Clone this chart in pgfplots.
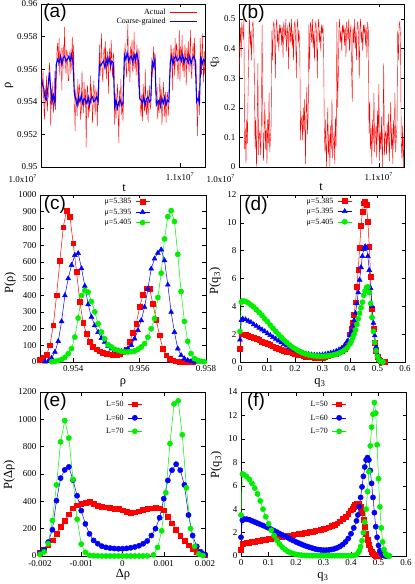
\documentclass[border=0pt]{standalone}
\usepackage{fontspec}
\setmainfont{Liberation Serif}
\newfontfamily\panelfont{Liberation Sans}
\usepackage{pgfplots}
\pgfplotsset{compat=1.18}

\definecolor{cR}{RGB}{255,0,0}
\definecolor{cB}{RGB}{0,0,255}
\definecolor{cG}{RGB}{0,238,0}

\newcommand\lab{\fontsize{12.5}{14}\selectfont}
\newcommand\plab{\panelfont\fontsize{19}{20}\selectfont}

\pgfplotsset{
  panel/.style={
    scale only axis, anchor=south west,
    tick align=inside, major tick length=3.5pt,
    tick style={black, line width=0.4pt},
    axis line style={line width=0.5pt},
    tick label style={font=\fontsize{9}{10}\selectfont},
    /pgf/number format/assume math mode=true,
    /pgf/number format/fixed,
    /pgf/number format/precision=3,
    /pgf/number format/1000 sep={},
    scaled ticks=false,
  },
  tseries/.style={
    xmin=0, xmax=1.18,
    xtick={1}, xticklabels={1.1x10\textsuperscript{7}},
    extra x ticks={0}, extra x tick labels={1.0x10\textsuperscript{7}},
    xticklabel style={yshift=-2pt},
    extra x tick style={tick label style={anchor=north east, xshift=-0.5pt, yshift=-2pt}},
  },
  dleg/.style n args={3}{
    legend cell align=right, legend plot pos=right,
    legend style={draw=none, fill=none, anchor=north east,
      at={(axis description cs:#1,#2)}, inner sep=0pt,
      font=\fontsize{8}{9}\selectfont, row sep=#3,
      nodes={inner sep=1pt, text height=6pt, text depth=1.5pt},
      /tikz/every odd column/.append style={column sep=3pt}},
    legend image code/.code={\draw[mark repeat=2,mark phase=2,##1] plot coordinates {(0pt,0pt) (7pt,0pt) (14pt,0pt)};},
  },
  sR/.style={cR, line width=0.5pt, mark=square*, mark size=2.4pt, mark options={solid}},
  sT/.style={cB, line width=0.5pt, mark=triangle*, mark size=2.8pt, mark options={solid}},
  sC/.style={cB, line width=0.5pt, mark=*, mark size=2.6pt, mark options={solid}},
  sG/.style={cG, line width=0.5pt, mark=*, mark size=2.6pt, mark options={solid}},
}

\begin{document}
\begin{tikzpicture}
\useasboundingbox (0pt,0pt) rectangle (415pt,584pt);

% (a) density time series
\begin{axis}[panel, tseries, at={(41pt,417pt)}, width=164pt, height=163pt,
  ymin=0.95, ymax=0.96,
  ytick={0.95,0.952,0.954,0.956,0.958,0.96},
  legend cell align=right, legend plot pos=right,
  legend style={draw=none, fill=none, at={(axis description cs:0.955,0.975)}, anchor=north east,
    inner sep=0pt, font=\fontsize{8}{9}\selectfont, nodes={inner sep=0.8pt},
    /tikz/every odd column/.append style={column sep=3pt}},
  legend image code/.code={\draw[#1] (0pt,0pt) -- (27pt,0pt);}]
\addplot[cR, line width=0.4pt] table[row sep=\\, x expr=\coordindex*0.005, y index=0] {y\\
0.9558\\0.9541\\0.9551\\0.9559\\0.9540\\0.9529\\0.9550\\0.9539\\0.9556\\0.9534\\0.9542\\0.9544\\0.9564\\0.9559\\0.9525\\0.9548\\0.9538\\0.9552\\0.9533\\0.9543\\
0.9559\\0.9535\\0.9554\\0.9571\\0.9576\\0.9562\\0.9579\\0.9556\\0.9566\\0.9573\\0.9547\\0.9570\\0.9575\\0.9560\\0.9586\\0.9565\\0.9557\\0.9572\\0.9569\\0.9553\\
0.9553\\0.9569\\0.9572\\0.9557\\0.9565\\0.9580\\0.9560\\0.9575\\0.9545\\0.9522\\0.9548\\0.9541\\0.9531\\0.9554\\0.9537\\0.9551\\0.9546\\0.9529\\0.9535\\0.9559\\
0.9543\\0.9533\\0.9552\\0.9538\\0.9548\\0.9512\\0.9545\\0.9550\\0.9530\\0.9542\\0.9534\\0.9556\\0.9539\\0.9549\\0.9527\\0.9536\\0.9553\\0.9544\\0.9532\\0.9547\\
0.9545\\0.9525\\0.9548\\0.9538\\0.9575\\0.9556\\0.9566\\0.9582\\0.9558\\0.9552\\0.9569\\0.9574\\0.9560\\0.9577\\0.9554\\0.9564\\0.9571\\0.9545\\0.9568\\0.9573\\
0.9558\\0.9578\\0.9563\\0.9555\\0.9570\\0.9567\\0.9526\\0.9545\\0.9530\\0.9542\\0.9551\\0.9534\\0.9515\\0.9547\\0.9537\\0.9554\\0.9532\\0.9540\\0.9528\\0.9548\\
0.9561\\0.9576\\0.9564\\0.9555\\0.9572\\0.9588\\0.9559\\0.9569\\0.9552\\0.9574\\0.9566\\0.9578\\0.9558\\0.9563\\0.9583\\0.9560\\0.9570\\0.9556\\0.9575\\0.9565\\
0.9549\\0.9573\\0.9553\\0.9536\\0.9531\\0.9545\\0.9528\\0.9551\\0.9541\\0.9534\\0.9560\\0.9537\\0.9532\\0.9547\\0.9527\\0.9542\\0.9550\\0.9535\\0.9538\\0.9554\\
0.9565\\0.9555\\0.9574\\0.9560\\0.9570\\0.9547\\0.9544\\0.9549\\0.9529\\0.9541\\0.9533\\0.9555\\0.9538\\0.9548\\0.9526\\0.9535\\0.9552\\0.9543\\0.9531\\0.9546\\
0.9527\\0.9543\\0.9546\\0.9531\\0.9539\\0.9554\\0.9560\\0.9575\\0.9570\\0.9547\\0.9573\\0.9566\\0.9556\\0.9579\\0.9562\\0.9576\\0.9571\\0.9554\\0.9560\\0.9584\\
0.9552\\0.9574\\0.9564\\0.9581\\0.9559\\0.9567\\0.9555\\0.9575\\0.9570\\0.9550\\0.9573\\0.9563\\0.9577\\0.9558\\0.9568\\0.9584\\0.9560\\0.9554\\0.9571\\0.9576\\
0.9562\\0.9579\\0.9556\\0.9566\\0.9545\\0.9519\\0.9542\\0.9547\\0.9532\\0.9579\\0.9564\\0.9556\\0.9582\\0.9568\\0.9552\\0.9571\\0.9556\\};
\addlegendentry{Actual}
\addplot[cB, line width=1.1pt] table[row sep=\\, x expr=\coordindex*0.01, y index=0] {y\\
0.9556\\0.9551\\0.9548\\0.9542\\0.9541\\0.9549\\0.9558\\0.9548\\0.9540\\0.9544\\0.9539\\0.9563\\0.9566\\0.9564\\0.9568\\0.9563\\0.9567\\0.9568\\0.9565\\0.9566\\
0.9568\\0.9565\\0.9569\\0.9564\\0.9545\\0.9542\\0.9538\\0.9543\\0.9540\\0.9544\\0.9539\\0.9542\\0.9541\\0.9539\\0.9543\\0.9538\\0.9542\\0.9543\\0.9540\\0.9541\\
0.9543\\0.9540\\0.9563\\0.9562\\0.9564\\0.9565\\0.9561\\0.9566\\0.9563\\0.9567\\0.9562\\0.9565\\0.9564\\0.9537\\0.9541\\0.9536\\0.9540\\0.9541\\0.9538\\0.9539\\
0.9569\\0.9566\\0.9570\\0.9565\\0.9567\\0.9568\\0.9564\\0.9569\\0.9566\\0.9570\\0.9565\\0.9542\\0.9541\\0.9539\\0.9543\\0.9538\\0.9542\\0.9543\\0.9540\\0.9541\\
0.9565\\0.9562\\0.9566\\0.9538\\0.9540\\0.9541\\0.9537\\0.9542\\0.9539\\0.9543\\0.9538\\0.9541\\0.9540\\0.9564\\0.9568\\0.9563\\0.9567\\0.9568\\0.9565\\0.9566\\
0.9568\\0.9565\\0.9569\\0.9564\\0.9567\\0.9566\\0.9564\\0.9568\\0.9563\\0.9567\\0.9568\\0.9565\\0.9540\\0.9542\\0.9539\\0.9568\\0.9563\\0.9566\\0.9565\\};
\addlegendentry{Coarse-grained}
\end{axis}

% (b) q3 time series
\begin{axis}[panel, tseries, at={(239pt,417pt)}, width=165pt, height=163pt,
  ymin=0, ymax=0.55,
  ytick={0,0.1,0.2,0.3,0.4,0.5}]
\addplot[cR, line width=0.4pt] table[row sep=\\, x expr=\coordindex*0.005, y index=0] {y\\
0.30\\0.41\\0.47\\0.37\\0.49\\0.46\\0.43\\0.50\\0.06\\0.13\\0.01\\0.16\\0.08\\0.25\\0.42\\0.50\\0.40\\0.46\\0.36\\0.48\\
0.49\\0.44\\0.30\\0.06\\0.17\\0.00\\0.13\\0.35\\0.04\\0.11\\0.12\\0.04\\0.15\\0.48\\0.18\\0.02\\0.11\\0.22\\0.06\\0.13\\
0.01\\0.16\\0.08\\0.25\\0.05\\0.10\\0.14\\0.46\\0.36\\0.48\\0.49\\0.44\\0.30\\0.47\\0.50\\0.42\\0.46\\0.39\\0.48\\0.45\\
0.48\\0.41\\0.47\\0.37\\0.49\\0.46\\0.43\\0.50\\0.39\\0.45\\0.48\\0.33\\0.49\\0.47\\0.42\\0.50\\0.40\\0.46\\0.36\\0.48\\
0.49\\0.44\\0.30\\0.47\\0.50\\0.42\\0.46\\0.39\\0.09\\0.16\\0.17\\0.09\\0.20\\0.12\\0.23\\0.01\\0.16\\0.27\\0.11\\0.18\\
0.48\\0.33\\0.49\\0.47\\0.42\\0.50\\0.40\\0.46\\0.36\\0.48\\0.49\\0.44\\0.30\\0.47\\0.50\\0.42\\0.46\\0.39\\0.48\\0.45\\
0.48\\0.41\\0.13\\0.05\\0.16\\0.00\\0.09\\0.20\\0.04\\0.11\\0.00\\0.14\\0.06\\0.23\\0.03\\0.08\\0.12\\0.01\\0.17\\0.07\\
0.49\\0.20\\0.30\\0.47\\0.50\\0.42\\0.46\\0.39\\0.48\\0.45\\0.48\\0.41\\0.47\\0.37\\0.49\\0.46\\0.43\\0.50\\0.39\\0.45\\
0.48\\0.33\\0.22\\0.47\\0.42\\0.50\\0.40\\0.46\\0.36\\0.48\\0.49\\0.44\\0.30\\0.47\\0.50\\0.42\\0.46\\0.39\\0.48\\0.45\\
0.48\\0.41\\0.47\\0.37\\0.49\\0.46\\0.11\\0.22\\0.06\\0.13\\0.01\\0.16\\0.08\\0.25\\0.05\\0.10\\0.14\\0.03\\0.19\\0.09\\
0.28\\0.02\\0.12\\0.06\\0.17\\0.00\\0.13\\0.35\\0.04\\0.11\\0.12\\0.04\\0.15\\0.07\\0.18\\0.02\\0.11\\0.22\\0.06\\0.13\\
0.01\\0.16\\0.08\\0.25\\0.05\\0.10\\0.14\\0.46\\0.36\\0.48\\0.49\\0.44\\0.09\\0.03\\0.14\\0.00\\0.10\\};
\end{axis}

% (c) P(rho)
\begin{axis}[panel, at={(40pt,222pt)}, width=166pt, height=167pt,
  xmin=0.953, xmax=0.958, ymin=0, ymax=1000,
  xtick={0.954,0.956,0.958}, ytick={0,100,...,1000},
  dleg={0.663}{0.99}{1pt}]
\addplot[sR] coordinates {(0.9530,15)(0.9531,25)(0.9532,45)(0.9533,100)(0.9534,220)(0.9535,400)(0.9536,608)(0.9537,807)(0.9538,906)(0.9539,872)(0.9540,711)(0.9541,540)(0.9542,362)(0.9543,235)(0.9544,169)(0.9545,120)(0.9546,92)(0.9547,76)(0.9548,64)(0.9549,57)(0.9550,50)(0.9551,46)(0.9552,42)(0.9553,44)(0.9554,50)(0.9555,60)(0.9556,76)(0.9557,120)(0.9558,175)(0.9559,229)(0.9560,329)(0.9561,402)(0.9562,442)(0.9563,438)(0.9564,350)(0.9565,253)(0.9566,160)(0.9567,80)(0.9568,40)(0.9569,20)(0.9570,10)(0.9571,4)(0.9572,2)(0.9573,1)(0.9574,0)(0.9575,0)(0.9576,0)};
\addlegendentry{μ=5.385}
\addplot[sT] coordinates {(0.95315,2)(0.95325,6)(0.95335,24)(0.95345,60)(0.95355,124)(0.95365,243)(0.95375,398)(0.95385,500)(0.95395,580)(0.95405,640)(0.95415,651)(0.95425,560)(0.95435,455)(0.95445,345)(0.95455,270)(0.95465,219)(0.95475,179)(0.95485,143)(0.95495,120)(0.95505,96)(0.95515,80)(0.95525,70)(0.95535,64)(0.95545,64)(0.95555,70)(0.95565,80)(0.95575,100)(0.95585,140)(0.95595,190)(0.95605,249)(0.95615,329)(0.95625,438)(0.95635,558)(0.95645,618)(0.95655,653)(0.95665,673)(0.95675,608)(0.95685,462)(0.95695,299)(0.95705,179)(0.95715,80)(0.95725,40)(0.95735,20)(0.95745,10)(0.95755,4)(0.95765,2)(0.95775,1)};
\addlegendentry{μ=5.395}
\addplot[sG] coordinates {(0.95335,2)(0.95345,4)(0.95355,8)(0.95365,15)(0.95375,28)(0.95385,50)(0.95395,80)(0.95405,149)(0.95415,263)(0.95425,398)(0.95435,428)(0.95445,418)(0.95455,362)(0.95465,300)(0.95475,229)(0.95485,179)(0.95495,139)(0.95505,104)(0.95515,90)(0.95525,76)(0.95535,70)(0.95545,64)(0.95555,60)(0.95565,60)(0.95575,62)(0.95585,66)(0.95595,76)(0.95605,90)(0.95615,110)(0.95625,149)(0.95635,199)(0.95645,260)(0.95655,386)(0.95665,532)(0.95675,737)(0.95685,870)(0.95695,906)(0.95705,841)(0.95715,645)(0.95725,422)(0.95735,243)(0.95745,124)(0.95755,50)(0.95765,20)(0.95775,10)(0.95785,4)(0.95795,2)};
\addlegendentry{μ=5.405}
\end{axis}

% (d) P(q3) vs mu
\begin{axis}[panel, at={(240pt,222pt)}, width=165pt, height=167pt,
  xmin=0, xmax=0.6, ymin=0, ymax=12,
  xtick={0,0.1,0.2,0.3,0.4,0.5,0.6}, ytick={0,2,4,6,8,10,12},
  dleg={0.68}{0.995}{1pt}]
\addplot[sR] coordinates {(0,0.95)(0.005,2.0)(0.01,2.0)(0.02,1.95)(0.03,1.9)(0.04,1.82)(0.05,1.75)(0.06,1.65)(0.07,1.57)(0.08,1.48)(0.09,1.4)(0.1,1.3)(0.11,1.22)(0.12,1.13)(0.13,1.05)(0.14,0.98)(0.15,0.9)(0.16,0.83)(0.17,0.76)(0.18,0.7)(0.19,0.64)(0.2,0.58)(0.21,0.53)(0.22,0.48)(0.23,0.44)(0.24,0.4)(0.25,0.37)(0.26,0.35)(0.27,0.33)(0.28,0.32)(0.29,0.32)(0.3,0.33)(0.31,0.36)(0.32,0.42)(0.33,0.48)(0.34,0.55)(0.35,0.62)(0.36,0.7)(0.37,0.8)(0.38,0.95)(0.39,1.3)(0.4,2.0)(0.405,2.4)(0.41,2.8)(0.415,3.4)(0.42,4.3)(0.425,5.4)(0.43,6.6)(0.435,8.2)(0.44,9.8)(0.445,10.8)(0.45,11.4)(0.455,11.5)(0.46,11.3)(0.465,10.1)(0.47,8.3)(0.475,6.1)(0.48,3.8)(0.485,2.4)(0.49,1.4)(0.495,0.8)(0.5,0.4)(0.505,0.2)(0.51,0.08)(0.515,0.03)(0.52,0.01)(0.525,0)};
\addlegendentry{μ=5.385}
\addplot[sT] coordinates {(0,1.6)(0.005,3.0)(0.01,3.1)(0.02,3.05)(0.03,2.95)(0.04,2.85)(0.05,2.7)(0.06,2.58)(0.07,2.45)(0.08,2.32)(0.09,2.2)(0.1,2.05)(0.11,1.92)(0.12,1.78)(0.13,1.65)(0.14,1.52)(0.15,1.4)(0.16,1.28)(0.17,1.17)(0.18,1.06)(0.19,0.96)(0.2,0.87)(0.21,0.79)(0.22,0.72)(0.23,0.66)(0.24,0.6)(0.25,0.56)(0.26,0.53)(0.27,0.51)(0.28,0.5)(0.29,0.5)(0.3,0.52)(0.31,0.55)(0.32,0.6)(0.33,0.65)(0.34,0.7)(0.35,0.78)(0.36,0.88)(0.37,1.0)(0.38,1.2)(0.39,1.5)(0.4,1.9)(0.405,2.2)(0.41,2.6)(0.415,3.0)(0.42,3.5)(0.425,4.2)(0.43,5.0)(0.435,5.9)(0.44,6.8)(0.445,7.6)(0.45,8.1)(0.455,8.3)(0.46,8.2)(0.465,7.6)(0.47,6.6)(0.475,5.3)(0.48,4.0)(0.485,2.8)(0.49,1.9)(0.495,1.1)(0.5,0.55)(0.505,0.25)(0.51,0.1)(0.515,0.03)(0.52,0)};
\addlegendentry{μ=5.395}
\addplot[sG] coordinates {(0,2.2)(0.005,4.3)(0.01,4.4)(0.02,4.35)(0.03,4.25)(0.04,4.1)(0.05,3.95)(0.06,3.75)(0.07,3.55)(0.08,3.35)(0.09,3.1)(0.1,2.9)(0.11,2.65)(0.12,2.42)(0.13,2.2)(0.14,1.98)(0.15,1.78)(0.16,1.58)(0.17,1.4)(0.18,1.23)(0.19,1.08)(0.2,0.95)(0.21,0.83)(0.22,0.73)(0.23,0.64)(0.24,0.57)(0.25,0.51)(0.26,0.47)(0.27,0.44)(0.28,0.42)(0.29,0.41)(0.3,0.41)(0.31,0.42)(0.32,0.44)(0.33,0.47)(0.34,0.51)(0.35,0.56)(0.36,0.63)(0.37,0.72)(0.38,0.85)(0.39,1.02)(0.4,1.3)(0.405,1.5)(0.41,1.75)(0.415,2.0)(0.42,2.3)(0.425,2.7)(0.43,3.1)(0.435,3.5)(0.44,3.9)(0.445,4.3)(0.45,4.8)(0.455,5.1)(0.46,5.35)(0.465,5.4)(0.47,5.0)(0.475,4.2)(0.48,3.2)(0.485,2.2)(0.49,1.4)(0.495,0.8)(0.5,0.4)(0.505,0.15)(0.51,0.06)(0.515,0.02)(0.52,0)};
\addlegendentry{μ=5.405}
\end{axis}

% (e) P(delta rho) vs L
\begin{axis}[panel, at={(40pt,28pt)}, width=165pt, height=164pt,
  xmin=-0.002, xmax=0.002, ymin=0, ymax=1200,
  xtick={-0.002,-0.001,0,0.001,0.002}, ytick={0,200,...,1200},
  xticklabel style={yshift=-1pt},
  dleg={0.62}{0.955}{4pt}]
\addplot[sR] coordinates {(-0.0020,25)(-0.0019,45)(-0.0018,80)(-0.0017,115)(-0.0016,165)(-0.0015,215)(-0.0014,260)(-0.0013,305)(-0.0012,350)(-0.0011,372)(-0.0010,383)(-0.0009,390)(-0.0008,395)(-0.0007,380)(-0.0006,370)(-0.0005,362)(-0.0004,356)(-0.0003,352)(-0.0002,348)(-0.0001,343)(0,335)(0.0001,325)(0.0002,318)(0.0003,320)(0.0004,328)(0.0005,338)(0.0006,345)(0.0007,350)(0.0008,352)(0.0009,350)(0.0010,335)(0.0011,290)(0.0012,240)(0.0013,192)(0.0014,150)(0.0015,112)(0.0016,78)(0.0017,50)(0.0018,30)(0.0019,14)(0.0020,5)};
\addlegendentry{L=50}
\addplot[sC] coordinates {(-0.0020,20)(-0.0019,46)(-0.0018,102)(-0.0017,192)(-0.0016,405)(-0.0015,570)(-0.0014,630)(-0.0013,652)(-0.0012,555)(-0.0011,441)(-0.0010,332)(-0.0009,235)(-0.0008,162)(-0.0007,114)(-0.0006,90)(-0.0005,72)(-0.0004,63)(-0.0003,58)(-0.0002,55)(-0.0001,53)(0,53)(0.0001,56)(0.0002,60)(0.0003,66)(0.0004,75)(0.0005,90)(0.0006,110)(0.0007,150)(0.0008,200)(0.0009,280)(0.0010,419)(0.0011,553)(0.0012,628)(0.0013,672)(0.0014,628)(0.0015,520)(0.0016,300)(0.0017,150)(0.0018,70)(0.0019,30)(0.0020,12)};
\addlegendentry{L=60}
\addplot[sG] coordinates {(-0.0020,12)(-0.0019,30)(-0.0018,90)(-0.0017,260)(-0.0016,520)(-0.0015,835)(-0.0014,991)(-0.0013,863)(-0.0012,560)(-0.0011,269)(-0.0010,87)(-0.0009,27)(-0.0008,5)(-0.0007,2)(-0.0006,1)(-0.0005,0)(-0.0004,0)(-0.0003,0)(-0.0002,0)(-0.0001,0)(0,0)(0.0001,0)(0.0002,0)(0.0003,0)(0.0004,0)(0.0005,0)(0.0006,1)(0.00075,8)(0.00085,63)(0.00095,184)(0.00105,463)(0.00115,822)(0.00125,1113)(0.00135,1135)(0.00145,887)(0.00155,499)(0.00165,201)(0.00175,70)(0.00185,15)(0.00195,3)};
\addlegendentry{L=70}
\end{axis}

% (f) P(q3) vs L
\begin{axis}[panel, at={(241pt,28pt)}, width=165pt, height=164pt,
  xmin=0, xmax=0.6, ymin=0, ymax=14,
  xtick={0,0.1,0.2,0.3,0.4,0.5,0.6}, ytick={0,2,4,6,8,10,12,14},
  dleg={0.64}{0.955}{4pt}]
\addplot[sR] coordinates {(0,0.5)(0.005,1.05)(0.01,1.08)(0.02,1.12)(0.03,1.16)(0.04,1.2)(0.05,1.24)(0.06,1.28)(0.07,1.32)(0.08,1.36)(0.09,1.41)(0.1,1.45)(0.11,1.49)(0.12,1.53)(0.13,1.57)(0.14,1.61)(0.15,1.65)(0.16,1.69)(0.17,1.73)(0.18,1.77)(0.19,1.81)(0.2,1.85)(0.21,1.89)(0.22,1.93)(0.23,1.97)(0.24,2.01)(0.25,2.05)(0.26,2.1)(0.27,2.15)(0.28,2.2)(0.29,2.25)(0.3,2.3)(0.31,2.37)(0.32,2.45)(0.33,2.55)(0.34,2.67)(0.35,2.8)(0.36,2.97)(0.37,3.15)(0.38,3.37)(0.39,3.62)(0.4,3.9)(0.405,4.05)(0.41,4.2)(0.415,4.35)(0.42,4.45)(0.425,4.5)(0.43,4.45)(0.435,4.2)(0.44,3.7)(0.445,3.1)(0.45,2.5)(0.455,1.9)(0.46,1.4)(0.465,0.95)(0.47,0.6)(0.475,0.35)(0.48,0.2)(0.485,0.1)(0.49,0.05)(0.495,0.02)(0.5,0)};
\addlegendentry{L=50}
\addplot[sC] coordinates {(0,1.6)(0.005,3.05)(0.01,3.15)(0.02,3.15)(0.03,3.1)(0.04,3.0)(0.05,2.9)(0.06,2.8)(0.07,2.7)(0.08,2.6)(0.09,2.5)(0.1,2.4)(0.11,2.28)(0.12,2.16)(0.13,2.04)(0.14,1.92)(0.15,1.8)(0.16,1.68)(0.17,1.56)(0.18,1.44)(0.19,1.32)(0.2,1.2)(0.21,1.1)(0.22,1.0)(0.23,0.9)(0.24,0.82)(0.25,0.74)(0.26,0.67)(0.27,0.6)(0.28,0.55)(0.29,0.52)(0.3,0.5)(0.31,0.5)(0.32,0.52)(0.33,0.56)(0.34,0.62)(0.35,0.7)(0.36,0.82)(0.37,0.98)(0.38,1.2)(0.39,1.5)(0.4,1.9)(0.41,2.4)(0.42,3.0)(0.425,3.5)(0.43,4.2)(0.435,5.0)(0.44,5.9)(0.445,6.8)(0.45,7.6)(0.455,8.2)(0.46,8.4)(0.465,8.2)(0.47,7.3)(0.475,6.2)(0.48,5.0)(0.485,3.7)(0.49,2.5)(0.495,1.6)(0.5,0.9)(0.505,0.45)(0.51,0.2)(0.515,0.08)(0.52,0.03)(0.525,0.01)(0.53,0)};
\addlegendentry{L=60}
\addplot[sG] coordinates {(0,3.5)(0.005,7.0)(0.01,6.95)(0.02,6.8)(0.03,6.55)(0.04,6.2)(0.05,5.8)(0.06,5.3)(0.07,4.7)(0.08,4.0)(0.09,3.35)(0.1,2.75)(0.11,2.2)(0.12,1.75)(0.13,1.35)(0.14,1.02)(0.15,0.76)(0.16,0.55)(0.17,0.4)(0.18,0.28)(0.19,0.2)(0.2,0.14)(0.21,0.1)(0.22,0.07)(0.23,0.05)(0.24,0.04)(0.25,0.03)(0.26,0.03)(0.27,0.03)(0.28,0.03)(0.29,0.03)(0.3,0.03)(0.31,0.03)(0.32,0.03)(0.33,0.03)(0.34,0.03)(0.35,0.03)(0.36,0.03)(0.37,0.03)(0.38,0.03)(0.39,0.03)(0.4,0.03)(0.41,0.05)(0.42,0.12)(0.425,0.25)(0.43,0.45)(0.435,0.8)(0.44,1.3)(0.445,2.0)(0.45,2.9)(0.455,4.0)(0.46,5.5)(0.465,7.2)(0.47,9.4)(0.475,11.0)(0.48,12.1)(0.485,13.1)(0.49,12.2)(0.495,9.5)(0.5,6.6)(0.505,4.2)(0.51,2.4)(0.515,1.2)(0.52,0.55)(0.525,0.2)(0.53,0.07)(0.535,0.02)(0.54,0)};
\addlegendentry{L=70}
\end{axis}

% axis labels
\node[font=\lab, rotate=90] at (9pt,499pt) {ρ};
\node[font=\lab] at (124pt,396pt) {t};
\node[font=\lab, rotate=90] at (215pt,522pt) {q\textsubscript{3}};
\node[font=\lab] at (321pt,397pt) {t};
\node[font=\lab, rotate=90] at (10pt,301pt) {P(ρ)};
\node[font=\lab] at (123pt,201pt) {ρ};
\node[font=\lab, rotate=90] at (215pt,303pt) {P(q\textsubscript{3})};
\node[font=\lab] at (320pt,201pt) {q\textsubscript{3}};
\node[font=\lab, rotate=90] at (9pt,109pt) {P(Δρ)};
\node[font=\lab] at (123pt,9pt) {Δρ};
\node[font=\lab, rotate=90] at (216pt,119pt) {P(q\textsubscript{3})};
\node[font=\lab] at (323pt,7pt) {q\textsubscript{3}};

% panel letters
\node[font=\plab] at (55pt,571pt) {(a)};
\node[font=\plab] at (253pt,570pt) {(b)};
\node[font=\plab] at (55pt,379pt) {(c)};
\node[font=\plab] at (256pt,378pt) {(d)};
\node[font=\plab] at (55pt,182pt) {(e)};
\node[font=\plab] at (256pt,182pt) {(f)};
\end{tikzpicture}
\end{document}
